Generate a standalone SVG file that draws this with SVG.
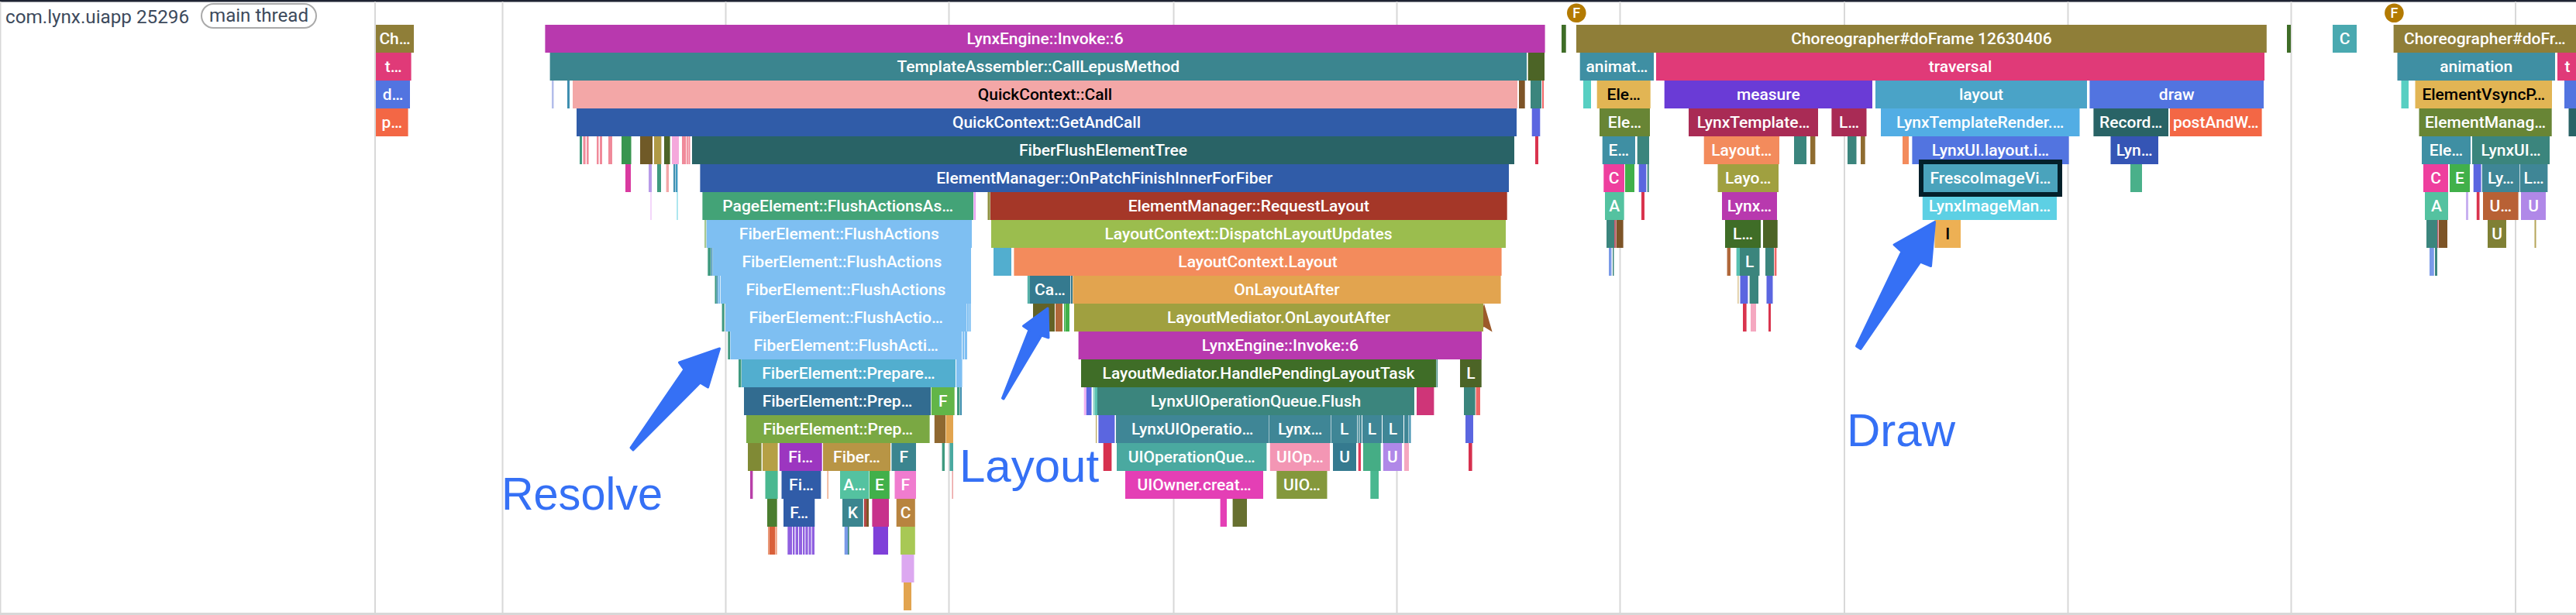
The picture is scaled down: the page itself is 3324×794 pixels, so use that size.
<svg xmlns="http://www.w3.org/2000/svg" width="3324" height="794" viewBox="0 0 3324 794">
<style>
rect.b{height:36px}
rect.g{fill:#d8d8d8}
text{font-family:Roboto,"Liberation Sans",sans-serif;font-size:21px;font-weight:500;fill:#fff;text-anchor:middle}
text.k{fill:#000}
text.h{font-size:24.5px;font-weight:400;fill:#3d4a5c;text-anchor:start}
text.n{font-family:"Liberation Sans",Arial,sans-serif;font-size:60px;font-weight:400;fill:#3570f5;text-anchor:start}
text.f{font-size:18px;font-weight:500}
.arrow{fill:#3570f5;stroke:#3570f5;stroke-width:3;stroke-linejoin:round}
.olive{fill:#8f7e38}.mag{fill:#b839ae}.dg{fill:#3f6d27}.cy{fill:#4aa9b0}.pk{fill:#e03a78}.tl{fill:#3b858f}.dol{fill:#4c6426}.an{fill:#3f8fa3}
.bl{fill:#5274e0}.sal{fill:#f3a7a7}.yl{fill:#e2b554}.pu{fill:#6a3bd6}.sky{fill:#4aa3c7}.or{fill:#f36745}.nv{fill:#305ca8}.gr{fill:#688535}.cr{fill:#a92b55}
.lb{fill:#52ade4}.dt{fill:#296366}.cor{fill:#f38b5c}.ind{fill:#3555b5}.t2{fill:#3b857d}.hp{fill:#ee3f9e}.ag{fill:#41b04a}.vi{fill:#5b66e0}.kh{fill:#a0a040}.mt{fill:#54c2a0}
.ice{fill:#5dd0e4}.rs{fill:#b86135}.lv{fill:#b088e8}.gn{fill:#43a377}.rd{fill:#a53728}.fb{fill:#7ebff2}.lm{fill:#9bbd4e}.am{fill:#edb054}.um{fill:#7f8035}.oa{fill:#e2a44f}
.st{fill:#357a8f}.cb{fill:#52aecf}.sb{fill:#326c90}.lg{fill:#62b548}.fg{fill:#7aa843}.qt{fill:#3f8696}.uq{fill:#4aa9a0}.rp{fill:#f396b4}.pr{fill:#9c36c0}.sd{fill:#b89545}
.ol2{fill:#84983c}.um2{fill:#e43fb5}.or2{fill:#f07ccf}.cp{fill:#b8843f}.red{fill:#d9344e}.rl{fill:#ee6666}.br{fill:#7d5427}.g1{fill:#3f9a7f}.pi{fill:#f08a9a}.g2{fill:#38954f}
.b1{fill:#705a27}.t1{fill:#b09a45}.p2{fill:#f5a8dc}.m2{fill:#d93aa0}.l2{fill:#b89ae8}.te{fill:#3f8fb0}.cyl{fill:#57cfc2}.b2{fill:#8f6c30}.cb2{fill:#cf3578}.b3{fill:#8f6830}
.g3{fill:#808a35}.g4{fill:#4ab890}.g5{fill:#4a7d2f}.m3{fill:#c7328c}.o3{fill:#d9603a}.vi2{fill:#7f40d9}.sk2{fill:#7a9ae8}.lm2{fill:#a8c855}.pl{fill:#dca8f0}.ro{fill:#b0683a}.ol3{fill:#636226}.ol4{fill:#677030}
.lt{fill:#f0b0f0}.pg{fill:#f5a8c0}
</style>
<rect width="3324" height="794" fill="#fff"/>
<g id="frame">
<rect x="0" y="0" width="3324" height="2.5" fill="#1f2433"/>
<rect x="0" y="791" width="3324" height="3" fill="#d8d8d8"/>
<rect class="g" x="0" y="2" width="1.5" height="790"/>
<rect class="g" x="483" y="2" width="2" height="790"/>
<rect class="g" x="647.5" y="2" width="2" height="790"/>
<rect class="g" x="935.5" y="2" width="2" height="790"/>
<rect class="g" x="1223.5" y="2" width="2" height="790"/>
<rect class="g" x="1513.5" y="2" width="2" height="790"/>
<rect class="g" x="1801.5" y="2" width="2" height="790"/>
<rect class="g" x="2089.5" y="2" width="2" height="790"/>
<rect class="g" x="2379" y="2" width="2" height="790"/>
<rect class="g" x="2667.5" y="2" width="2" height="790"/>
<rect class="g" x="2955.5" y="2" width="2" height="790"/>
<rect class="g" x="3245" y="2" width="2" height="790"/>
</g>
<g id="track-title">
<text class="h" x="7" y="30" textLength="237" lengthAdjust="spacingAndGlyphs">com.lynx.uiapp 25296</text>
<rect x="260" y="5" width="148" height="31" rx="15.5" fill="none" stroke="#aaa" stroke-width="2"/>
<text class="h" x="270" y="28" textLength="128" lengthAdjust="spacingAndGlyphs">main thread</text>
</g>
<g id="flags">
<g id="flag-1"><circle cx="2034.3" cy="16.7" r="12.3" fill="#b37a00"/><text class="f" x="2034.3" y="23">F</text></g>
<g id="flag-2"><circle cx="3089.4" cy="16.7" r="12.3" fill="#b37a00"/><text class="f" x="3089.4" y="23">F</text></g>
</g>
<g id="stripes">
<rect class="b dg" x="2015" y="32" width="5.7"/>
<rect class="b dg" x="2951" y="32" width="5"/>
<rect class="b dol" x="1971.7" y="68" width="21.3"/>
<rect class="b" fill="#b3bdea" x="712" y="104" width="2.5"/>
<rect class="b te" x="732" y="104" width="3"/>
<rect class="b br" x="1960" y="104" width="7.7"/>
<rect class="b t2" x="1975" y="104" width="14"/>
<rect class="b rl" x="1990" y="104" width="2"/>
<rect class="b cyl" x="2043" y="104" width="10"/>
<rect class="b cyl" x="3098.5" y="104" width="9.5"/>
<rect class="b bl" x="3309" y="104" width="15"/>
<rect class="b vi" x="1976.7" y="140" width="10.6"/>
<rect class="b dt" x="3314.5" y="140" width="9.5"/>
<rect class="b g1" x="748" y="176" width="3"/>
<rect class="b pi" x="752.5" y="176" width="3.1"/>
<rect class="b pi" x="757" y="176" width="2.6"/>
<rect class="b pi" x="770" y="176" width="2.5"/><rect class="b pi" x="774" y="176" width="3"/>
<rect class="b pi" x="785" y="176" width="5"/>
<rect class="b g2" x="802" y="176" width="12.5"/>
<rect class="b b1" x="826" y="176" width="16"/>
<rect class="b t1" x="844" y="176" width="9.4"/>
<rect class="b dol" x="857" y="176" width="7.6"/>
<rect class="b p2" x="867" y="176" width="9"/>
<rect class="b pi" x="880" y="176" width="5"/><rect class="b pi" x="885.8" y="176" width="2"/><rect class="b pi" x="888.4" y="176" width="2.1"/>
<rect class="b red" x="1981" y="176" width="4"/>
<rect class="b t2" x="2112.7" y="176" width="15.3"/>
<rect class="b t2" x="2315" y="176" width="16"/>
<rect class="b b2" x="2336" y="176" width="6.4"/>
<rect class="b t2" x="2384" y="176" width="11.5"/>
<rect class="b b2" x="2401" y="176" width="5.7"/>
<rect class="b cor" x="2455" y="176" width="8"/>
<rect class="b m2" x="807" y="212" width="7"/>
<rect class="b l2" x="837" y="212" width="4"/>
<rect class="b g1" x="848" y="212" width="5"/>
<rect class="b sal" x="859.6" y="212" width="3.4"/>
<rect class="b te" x="869" y="212" width="2.4"/><rect class="b" fill="#3f9ac0" x="872" y="212" width="2.4"/>
<rect class="b ag" x="2097" y="212" width="12"/>
<rect class="b vi" x="2114.7" y="212" width="9.6"/>
<rect class="b t2" x="2125.7" y="212" width="2"/>
<rect class="b" fill="#4ab08a" x="2749" y="212" width="15"/>
<rect class="b vi" x="3191.7" y="212" width="9.9"/>
<rect x="839.5" y="248" width="1" height="36" fill="#e8b0f5"/>
<rect x="873.5" y="248" width="1" height="36" fill="#5fd0e0"/>
<rect class="b" fill="#e8a0f0" x="1256.6" y="248" width="2.4"/>
<rect class="b" fill="#8f9040" x="1274.5" y="248" width="3.1"/>
<rect class="b red" x="2118" y="248" width="4"/>
<rect class="b" fill="#c8b0f0" x="3182" y="248" width="3"/>
<rect class="b red" x="3195.8" y="248" width="3.7"/>
<rect class="b" fill="#a8c890" x="909" y="284" width="2.4"/>
<rect class="b t2" x="2073" y="284" width="10"/>
<rect class="b" fill="#c06070" x="2083" y="284" width="2.4"/>
<rect class="b br" x="2085.7" y="284" width="8.9"/>
<rect class="b dol" x="2275" y="284" width="18.7"/>
<rect class="b t2" x="3131" y="284" width="14"/>
<rect class="b" fill="#c06070" x="3145" y="284" width="1.5"/>
<rect class="b br" x="3147" y="284" width="11"/>
<rect class="b" fill="#b5a55a" x="3270.5" y="284" width="2"/>
<rect class="b g1" x="913.3" y="320" width="3.7"/>
<rect class="b te" x="917.5" y="320" width="1.9"/>
<rect class="b cb" x="1282" y="320" width="23"/>
<rect class="b sk2" x="2076" y="320" width="3.5"/>
<rect class="b t2" x="2081" y="320" width="1.5"/>
<rect class="b ro" x="2228.6" y="320" width="4.4"/>
<rect class="b" fill="#57c0b0" x="2240.6" y="320" width="4.4"/>
<rect class="b t2" x="2278" y="320" width="11"/>
<rect class="b rl" x="2289.7" y="320" width="2.7"/>
<rect class="b sk2" x="3135" y="320" width="5.8"/>
<rect class="b t2" x="3142" y="320" width="3"/>
<rect class="b g1" x="922.5" y="356" width="2"/><rect class="b te" x="924.5" y="356" width="1.8"/><rect class="b fb" x="926.8" y="356" width="2.5"/>
<rect class="b" fill="#57b0a8" x="1325.8" y="356" width="3.2"/>
<rect class="b st" x="1381.7" y="356" width="2.3"/>
<rect class="b" fill="#c8a860" x="2242.4" y="356" width="1"/>
<rect class="b vi" x="2245.5" y="356" width="9.9"/>
<rect class="b t2" x="2257.6" y="356" width="11.4"/>
<rect class="b vi" x="2279.5" y="356" width="8"/>
<rect class="b g1" x="931.6" y="392" width="3.1"/>
<rect class="b fb" x="1247.9" y="392" width="2"/><rect class="b fb" x="1250.4" y="392" width="2.3"/>
<rect class="b ol3" x="1333" y="392" width="28"/>
<rect class="b ro" x="1362" y="392" width="9"/>
<rect class="b ag" x="1373" y="392" width="1.6"/><rect class="b ag" x="1375" y="392" width="5"/>
<rect class="b red" x="2249" y="392" width="4.6"/>
<rect class="b pg" x="2259" y="392" width="7"/>
<rect class="b red" x="2282" y="392" width="3"/>
<rect class="b g1" x="939.3" y="428" width="2.7"/>
<rect class="b fb" x="1241.8" y="428" width="2.6"/><rect class="b fb" x="1245" y="428" width="3"/>
<rect class="b g1" x="953" y="464" width="3.5"/>
<rect class="b fb" x="1234" y="464" width="7.6"/>
<rect class="b t2" x="1853.5" y="464" width="1.5"/>
<rect class="b g1" x="1235" y="500" width="3.4"/><rect class="b te" x="1239" y="500" width="2"/>
<rect class="b lt" x="1398.7" y="500" width="3.1"/>
<rect class="b vi" x="1401.8" y="500" width="6.7"/>
<rect class="b" fill="#57c0b0" x="1411" y="500" width="1.5"/><rect class="b" fill="#57c0b0" x="1413" y="500" width="3"/>
<rect class="b cb2" x="1828" y="500" width="22.4"/>
<rect class="b t2" x="1889" y="500" width="14.6"/>
<rect class="b rl" x="1904.5" y="500" width="5.5"/>
<rect class="b b3" x="1205.8" y="536" width="14.2"/>
<rect class="b oa" x="1220.5" y="536" width="9.5"/>
<rect class="b t1" x="1414" y="536" width="1"/>
<rect class="b vi" x="1417.4" y="536" width="21"/>
<rect class="b qt" x="1752" y="536" width="1.6"/><rect class="b qt" x="1754.4" y="536" width="2.6"/>
<rect class="b qt" x="1812" y="536" width="5.5"/><rect class="b te" x="1818.3" y="536" width="2.2"/>
<rect class="b vi" x="1891" y="536" width="10"/>
<rect class="b g3" x="965" y="572" width="17.6"/>
<rect class="b" fill="#b5a045" x="984" y="572" width="19.6"/>
<rect class="b g1" x="1215.6" y="572" width="3.4"/>
<rect class="b uq" x="1225.4" y="572" width="4.6"/>
<rect class="b" fill="#d6304e" x="1423.7" y="572" width="10.7"/>
<rect class="b" fill="#e03a5a" x="1752.7" y="572" width="3.3"/>
<rect class="b" fill="#45ad85" x="1759" y="572" width="22.7"/>
<rect class="b pg" x="1812" y="572" width="6"/>
<rect class="b" fill="#d6304e" x="1895" y="572" width="4.6"/>
<rect class="b" fill="#b83fa8" x="968" y="608" width="3.4"/>
<rect class="b g4" x="987.5" y="608" width="16.1"/>
<rect class="b" fill="#f0b090" x="1067.4" y="608" width="1.6"/>
<rect class="b" fill="#e07070" x="1228.6" y="608" width="1"/>
<rect class="b g4" x="1768.3" y="608" width="10.7"/>
<rect class="b g5" x="990" y="644" width="12.7"/>
<rect class="b" fill="#b04040" x="1115" y="644" width="2.9"/>
<rect class="b br" x="1118" y="644" width="3"/>
<rect class="b m3" x="1125.4" y="644" width="21.6"/>
<rect class="b um2" x="1574.6" y="644" width="8.4"/>
<rect class="b ol4" x="1590.6" y="644" width="18.4"/>
<rect class="b" fill="#e8906a" x="991" y="680" width="1.5"/>
<rect class="b o3" x="992.7" y="680" width="7.3"/>
<rect class="b" fill="#f0a080" x="1000.3" y="680" width="2.4"/>
<rect class="b" fill="#9060e0" x="1016.3" y="680" width="34.7"/>
<rect class="b" fill="#fff" x="1022" y="680" width="1"/><rect class="b" fill="#fff" x="1025.4" y="680" width="1.2"/><rect class="b" fill="#fff" x="1030" y="680" width="1"/><rect class="b" fill="#fff" x="1035" y="680" width="1"/><rect class="b" fill="#fff" x="1038.4" y="680" width="1"/><rect class="b" fill="#fff" x="1042.6" y="680" width="1"/><rect class="b" fill="#fff" x="1046.6" y="680" width="1"/>
<rect class="b sk2" x="1089.7" y="680" width="4.3"/>
<rect class="b t2" x="1094" y="680" width="1.7"/>
<rect class="b vi2" x="1126.8" y="680" width="19.2"/>
<rect class="b lm2" x="1162" y="680" width="18.8"/>
<rect class="b pl" x="1163.4" y="716" width="16.1"/>
<rect class="b oa" x="1166" y="752" width="10"/>
</g>
<polygon id="flow-arrow" points="1915,392 1905.5,428 1915,422 1925.6,428.5" fill="#9c5a2a"/>
<g id="slices">
<g id="s1"><rect class="b olive" x="485" y="32" width="49"/><text x="509.5" y="56.5">Ch…</text></g>
<g id="s2"><rect class="b mag" x="703.4" y="32" width="1290.2"/><text x="1348.5" y="56.5">LynxEngine::Invoke::6</text></g>
<g id="s3"><rect class="b olive" x="2034" y="32" width="890.8"/><text x="2479.4" y="56.5">Choreographer#doFrame 12630406</text></g>
<g id="s4"><rect class="b cy" x="3010" y="32" width="31"/><text x="3025.5" y="56.5">C</text></g>
<g id="s5"><rect class="b olive" x="3088.6" y="32" width="235.4"/><text x="3206.3" y="56.5">Choreographer#doFr…</text></g>
<g id="s6"><rect class="b pk" x="485" y="68" width="45.6"/><text x="507.8" y="92.5">t…</text></g>
<g id="s7"><rect class="b tl" x="709.6" y="68" width="1260.4"/><text x="1339.8" y="92.5">TemplateAssembler::CallLepusMethod</text></g>
<g id="s8"><rect class="b an" x="2038.7" y="68" width="95.3"/><text x="2086.4" y="92.5">animat…</text></g>
<g id="s9"><rect class="b pk" x="2137" y="68" width="785"/><text x="2529.5" y="92.5">traversal</text></g>
<g id="s10"><rect class="b an" x="3093.5" y="68" width="203.5"/><text x="3195.2" y="92.5">animation</text></g>
<g id="s11"><rect class="b pk" x="3300" y="68" width="24"/><text x="3313" y="92.5">t</text></g>
<g id="s12"><rect class="b bl" x="485" y="104" width="44"/><text x="507" y="128.5">d…</text></g>
<g id="s13"><rect class="b sal" x="739" y="104" width="1219"/><text class="k" x="1348.5" y="128.5">QuickContext::Call</text></g>
<g id="s14"><rect class="b yl" x="2060.7" y="104" width="69"/><text class="k" x="2095.2" y="128.5">Ele…</text></g>
<g id="s15"><rect class="b pu" x="2147.7" y="104" width="268.3"/><text x="2281.8" y="128.5">measure</text></g>
<g id="s16"><rect class="b sky" x="2420" y="104" width="273"/><text x="2556.5" y="128.5">layout</text></g>
<g id="s17"><rect class="b bl" x="2696.4" y="104" width="224.6"/><text x="2808.7" y="128.5">draw</text></g>
<g id="s18"><rect class="b yl" x="3116.5" y="104" width="176.5"/><text class="k" x="3204.7" y="128.5">ElementVsyncP…</text></g>
<g id="s19"><rect class="b or" x="485" y="140" width="41.6"/><text x="505.8" y="164.5">p…</text></g>
<g id="s20"><rect class="b nv" x="744" y="140" width="1213"/><text x="1350.5" y="164.5">QuickContext::GetAndCall</text></g>
<g id="s21"><rect class="b gr" x="2064" y="140" width="65"/><text x="2096.5" y="164.5">Ele…</text></g>
<g id="s22"><rect class="b cr" x="2179" y="140" width="167"/><text x="2262.5" y="164.5">LynxTemplate…</text></g>
<g id="s23"><rect class="b cr" x="2363.4" y="140" width="45.1"/><text x="2386" y="164.5">L…</text></g>
<g id="s24"><rect class="b lb" x="2427" y="140" width="256.5"/><text x="2555.2" y="164.5">LynxTemplateRender.…</text></g>
<g id="s25"><rect class="b dt" x="2701.4" y="140" width="96.6"/><text x="2749.7" y="164.5">Record…</text></g>
<g id="s26"><rect class="b or" x="2800" y="140" width="118.6"/><text x="2859.3" y="164.5">postAndW…</text></g>
<g id="s27"><rect class="b gr" x="3121.5" y="140" width="171.2"/><text x="3207.1" y="164.5">ElementManag…</text></g>
<g id="s28"><rect class="b dt" x="893" y="176" width="1061"/><text x="1423.5" y="200.5">FiberFlushElementTree</text></g>
<g id="s29"><rect class="b an" x="2067.7" y="176" width="42.3"/><text x="2088.8" y="200.5">E…</text></g>
<g id="s30"><rect class="b cor" x="2198.7" y="176" width="97.3"/><text x="2247.3" y="200.5">Layout…</text></g>
<g id="s31"><rect class="b bl" x="2467.4" y="176" width="202.2"/><text x="2568.5" y="200.5">LynxUI.layout.i…</text></g>
<g id="s32"><rect class="b ind" x="2723.5" y="176" width="61.5"/><text x="2754.2" y="200.5">Lyn…</text></g>
<g id="s33"><rect class="b an" x="3125" y="176" width="63"/><text x="3156.5" y="200.5">Ele…</text></g>
<g id="s34"><rect class="b t2" x="3190" y="176" width="100"/><text x="3240" y="200.5">LynxUI…</text></g>
<g id="s35"><rect class="b nv" x="903.4" y="212" width="1043.6"/><text x="1425.2" y="236.5">ElementManager::OnPatchFinishInnerForFiber</text></g>
<g id="s36"><rect class="b hp" x="2069.3" y="212" width="26.7"/><text x="2082.6" y="236.5">C</text></g>
<g id="s37"><rect class="b kh" x="2216.5" y="212" width="78.5"/><text x="2255.7" y="236.5">Layo…</text></g>
<g id="s39"><rect class="b hp" x="3127" y="212" width="32"/><text x="3143" y="236.5">C</text></g>
<g id="s40"><rect class="b ag" x="3161" y="212" width="26"/><text x="3174" y="236.5">E</text></g>
<g id="s41"><rect class="b qt" x="3202.8" y="212" width="48.2"/><text x="3226.9" y="236.5">Ly…</text></g>
<g id="s42"><rect class="b qt" x="3251.7" y="212" width="35.7"/><text x="3269.5" y="236.5">L…</text></g>
<g id="s43"><rect class="b gn" x="906.4" y="248" width="349.6"/><text x="1081.2" y="272.5">PageElement::FlushActionsAs…</text></g>
<g id="s44"><rect class="b rd" x="1278" y="248" width="666.7"/><text x="1611.3" y="272.5">ElementManager::RequestLayout</text></g>
<g id="s45"><rect class="b mt" x="2071" y="248" width="24.7"/><text x="2083.3" y="272.5">A</text></g>
<g id="s46"><rect class="b mag" x="2222" y="248" width="71"/><text x="2257.5" y="272.5">Lynx…</text></g>
<g id="s47"><rect class="b ice" x="2480.8" y="248" width="173.2"/><text x="2567.4" y="272.5">LynxImageMan…</text></g>
<g id="s48"><rect class="b mt" x="3129" y="248" width="30"/><text x="3144" y="272.5">A</text></g>
<g id="s49"><rect class="b rs" x="3204" y="248" width="45.6"/><text x="3226.8" y="272.5">U…</text></g>
<g id="s50"><rect class="b lv" x="3253" y="248" width="32"/><text x="3269" y="272.5">U</text></g>
<g id="s51"><rect class="b fb" x="911.7" y="284" width="342.3"/><text x="1082.8" y="308.5">FiberElement::FlushActions</text></g>
<g id="s52"><rect class="b lm" x="1279" y="284" width="664"/><text x="1611" y="308.5">LayoutContext::DispatchLayoutUpdates</text></g>
<g id="s53"><rect class="b dg" x="2226" y="284" width="46"/><text x="2249" y="308.5">L…</text></g>
<g id="s54"><rect class="b am" x="2496.4" y="284" width="33.6"/><text class="k" x="2513.2" y="308.5">I</text></g>
<g id="s55"><rect class="b um" x="3210" y="284" width="24"/><text x="3222" y="308.5">U</text></g>
<g id="s56"><rect class="b fb" x="919.8" y="320" width="333.2"/><text x="1086.4" y="344.5">FiberElement::FlushActions</text></g>
<g id="s57"><rect class="b cor" x="1308.4" y="320" width="629.2"/><text x="1623" y="344.5">LayoutContext.Layout</text></g>
<g id="s58"><rect class="b t2" x="2245" y="320" width="25.5"/><text x="2257.7" y="344.5">L</text></g>
<g id="s59"><rect class="b fb" x="930" y="356" width="323"/><text x="1091.5" y="380.5">FiberElement::FlushActions</text></g>
<g id="s60"><rect class="b st" x="1329" y="356" width="52"/><text x="1355" y="380.5">Ca…</text></g>
<g id="s61"><rect class="b oa" x="1384.4" y="356" width="552.2"/><text x="1660.5" y="380.5">OnLayoutAfter</text></g>
<g id="s62"><rect class="b fb" x="936" y="392" width="311.4"/><text x="1091.7" y="416.5">FiberElement::FlushActio…</text></g>
<g id="s63"><rect class="b kh" x="1386" y="392" width="528"/><text x="1650" y="416.5">LayoutMediator.OnLayoutAfter</text></g>
<g id="s64"><rect class="b fb" x="942.4" y="428" width="298.6"/><text x="1091.7" y="452.5">FiberElement::FlushActi…</text></g>
<g id="s65"><rect class="b mag" x="1391.6" y="428" width="520.4"/><text x="1651.8" y="452.5">LynxEngine::Invoke::6</text></g>
<g id="s66"><rect class="b cb" x="957" y="464" width="276"/><text x="1095" y="488.5">FiberElement::Prepare…</text></g>
<g id="s67"><rect class="b dg" x="1395" y="464" width="458"/><text x="1624" y="488.5">LayoutMediator.HandlePendingLayoutTask</text></g>
<g id="s68"><rect class="b dol" x="1884" y="464" width="27.7"/><text x="1897.8" y="488.5">L</text></g>
<g id="s69"><rect class="b sb" x="960" y="500" width="241"/><text x="1080.5" y="524.5">FiberElement::Prep…</text></g>
<g id="s70"><rect class="b lg" x="1201.8" y="500" width="29.9"/><text x="1216.7" y="524.5">F</text></g>
<g id="s71"><rect class="b t2" x="1416" y="500" width="409"/><text x="1620.5" y="524.5">LynxUIOperationQueue.Flush</text></g>
<g id="s72"><rect class="b fg" x="963" y="536" width="236.6"/><text x="1081.3" y="560.5">FiberElement::Prep…</text></g>
<g id="s73"><rect class="b qt" x="1440" y="536" width="197.5"/><text x="1538.7" y="560.5">LynxUIOperatio…</text></g>
<g id="s74"><rect class="b qt" x="1638" y="536" width="79.4"/><text x="1677.7" y="560.5">Lynx…</text></g>
<g id="s75"><rect class="b qt" x="1718" y="536" width="33.3"/><text x="1734.6" y="560.5">L</text></g>
<g id="s76"><rect class="b qt" x="1758" y="536" width="25"/><text x="1770.5" y="560.5">L</text></g>
<g id="s77"><rect class="b qt" x="1784" y="536" width="27"/><text x="1797.5" y="560.5">L</text></g>
<g id="s78"><rect class="b pr" x="1005.8" y="572" width="54.9"/><text x="1033.2" y="596.5">Fi…</text></g>
<g id="s79"><rect class="b sd" x="1062" y="572" width="87"/><text x="1105.5" y="596.5">Fiber…</text></g>
<g id="s80"><rect class="b tl" x="1150.4" y="572" width="31.6"/><text x="1166.2" y="596.5">F</text></g>
<g id="s81"><rect class="b uq" x="1441" y="572" width="193.4"/><text x="1537.7" y="596.5">UIOperationQue…</text></g>
<g id="s82"><rect class="b rp" x="1638.8" y="572" width="77.2"/><text x="1677.4" y="596.5">UIOp…</text></g>
<g id="s83"><rect class="b st" x="1720" y="572" width="30"/><text x="1735" y="596.5">U</text></g>
<g id="s84"><rect class="b lv" x="1784.8" y="572" width="24.2"/><text x="1796.9" y="596.5">U</text></g>
<g id="s85"><rect class="b nv" x="1008.5" y="608" width="50.9"/><text x="1034" y="632.5">Fi…</text></g>
<g id="s86"><rect class="b mt" x="1084" y="608" width="37.4"/><text x="1102.7" y="632.5">A…</text></g>
<g id="s87"><rect class="b ag" x="1122" y="608" width="25.8"/><text x="1134.9" y="632.5">E</text></g>
<g id="s88"><rect class="b or2" x="1154.5" y="608" width="27.5"/><text x="1168.2" y="632.5">F</text></g>
<g id="s89"><rect class="b um2" x="1452" y="608" width="178"/><text x="1541" y="632.5">UIOwner.creat…</text></g>
<g id="s90"><rect class="b ol2" x="1647.3" y="608" width="65.2"/><text x="1679.9" y="632.5">UIO…</text></g>
<g id="s91"><rect class="b nv" x="1011" y="644" width="40.3"/><text x="1031.1" y="668.5">F…</text></g>
<g id="s92"><rect class="b tl" x="1087" y="644" width="26.8"/><text x="1100.4" y="668.5">K</text></g>
<g id="s93"><rect class="b cp" x="1156.7" y="644" width="24.1"/><text x="1168.7" y="668.5">C</text></g>
<g id="s38"><rect class="b" fill="#4aa3bc" x="2482" y="212" width="173"/><rect x="2479" y="209" width="179" height="42" fill="none" stroke="#03202a" stroke-width="6"/><text x="2568.5" y="236.5">FrescoImageVi…</text></g>
</g>
<g id="connectors">
<polygon class="arrow" points="928.5,450 913.5,500 903.5,494 817,581 814,578 883,477 876.5,468"/>
<polygon class="arrow" points="1352,398 1353,436 1344,433 1295,515 1293.5,514 1328,426 1320.5,421"/>
<polygon class="arrow" points="2496.5,286.5 2491.5,343.5 2478,338 2401,450.5 2395.5,447 2454,325 2444,316"/>
</g>
<g id="annotations">
<text class="n" x="647" y="658" textLength="208" lengthAdjust="spacingAndGlyphs">Resolve</text>
<text class="n" x="1238" y="621.7">Layout</text>
<text class="n" x="2383" y="576">Draw</text>
</g>
</svg>
